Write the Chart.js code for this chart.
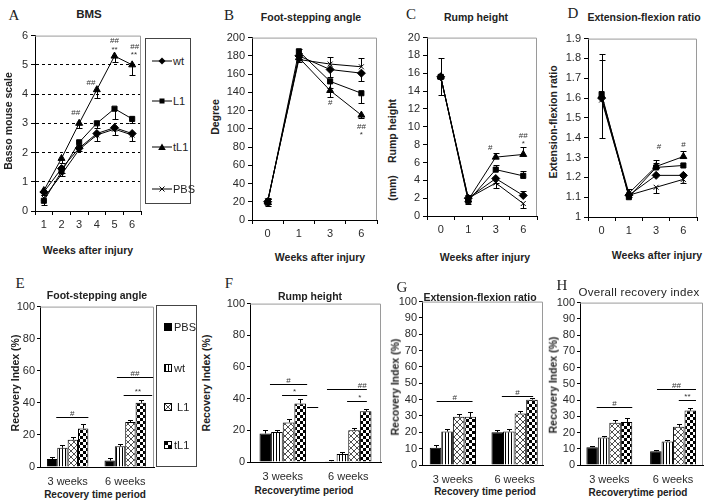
<!DOCTYPE html>
<html>
<head>
<meta charset="utf-8">
<script src="https://cdn.jsdelivr.net/npm/chart.js@4.4.1/dist/chart.umd.min.js"></script>
<style>
body{margin:0;background:#fff;font-family:"Liberation Sans",Arial,sans-serif;color:#222}
#wrap{position:relative;width:712px;height:504px;overflow:hidden;background:#fff}
canvas.ch{position:absolute}
.t{position:absolute;transform:translate(-50%,-50%);white-space:nowrap;line-height:1}
.b{font-weight:bold;font-size:10.5px}
.v{transform:translate(-50%,-50%) rotate(-90deg)}
.L{font-family:"Liberation Serif","Times New Roman",serif;font-size:15px}
.leg{position:absolute;border:1px solid #444;background:#fff;font-size:11px}
.li{position:absolute;left:0;display:flex;align-items:center;transform:translateY(-50%)}
.sw{border:1px solid #000;margin-right:2px}
</style>
</head>
<body>
<div id="wrap">
  <canvas class="ch" id="cA"></canvas>
  <canvas class="ch" id="cB"></canvas>
  <canvas class="ch" id="cC"></canvas>
  <canvas class="ch" id="cD"></canvas>
  <canvas class="ch" id="cE"></canvas>
  <canvas class="ch" id="cF"></canvas>
  <canvas class="ch" id="cG"></canvas>
  <canvas class="ch" id="cH"></canvas>

  <!-- panel letters -->
  <div class="t L" style="left:14px;top:15px">A</div>
  <div class="t L" style="left:229px;top:15px">B</div>
  <div class="t L" style="left:411px;top:14px">C</div>
  <div class="t L" style="left:573px;top:13px">D</div>
  <div class="t L" style="left:20px;top:283px">E</div>
  <div class="t L" style="left:229px;top:283px">F</div>
  <div class="t L" style="left:402px;top:287px">G</div>
  <div class="t L" style="left:562px;top:285px">H</div>

  <!-- titles -->
  <div class="t b" style="left:89px;top:15px;font-size:11.5px">BMS</div>
  <div class="t b" style="left:311px;top:17px">Foot-stepping angle</div>
  <div class="t b" style="left:476px;top:17px">Rump height</div>
  <div class="t b" style="left:644px;top:17px">Extension-flexion ratio</div>
  <div class="t b" style="left:97px;top:295px">Foot-stepping angle</div>
  <div class="t b" style="left:310px;top:296px">Rump height</div>
  <div class="t b" style="left:480px;top:297px">Extension-flexion ratio</div>
  <div class="t" style="left:639px;top:293px;font-size:11.5px;letter-spacing:0.3px">Overall recovery index</div>

  <!-- axis titles -->
  <div class="t b v" style="left:8px;top:121px">Basso mouse scale</div>
  <div class="t b v" style="left:215px;top:117px">Degree</div>
  <div class="t b v" style="left:392px;top:131px">Rump height</div>
  <div class="t b v" style="left:392px;top:188px">(mm)</div>
  <div class="t b v" style="left:553px;top:122px">Extension-flexion ratio</div>
  <div class="t b" style="left:88px;top:250px">Weeks after injury</div>
  <div class="t b" style="left:320px;top:257px">Weeks after injury</div>
  <div class="t b" style="left:485px;top:257px">Weeks after injury</div>
  <div class="t b" style="left:657px;top:255px">Weeks after injury</div>

  <div class="t b v" style="left:15px;top:383px">Recovery Index (%)</div>
  <div class="t b v" style="left:206px;top:383px">Recovery Index (%)</div>
  <div class="t b v" style="left:395px;top:387px">Recovery Index (%)</div>
  <div class="t b v" style="left:553px;top:385px">Recovery Index (%)</div>
  <div class="t b" style="left:95px;top:495px;font-size:10px">Recovery time period</div>
  <div class="t b" style="left:304px;top:491px;font-size:10px">Recoverytime period</div>
  <div class="t b" style="left:485px;top:492px;font-size:10px">Recovery time period</div>
  <div class="t b" style="left:638px;top:493px;font-size:10px">Recoverytime period</div>

  <!-- legend A -->
  <div class="leg" id="legA" style="left:145px;top:38px;width:44px;height:164px"></div>
  <!-- legend E -->
  <div class="leg" id="legE" style="left:156px;top:305px;width:39px;height:160px"></div>
</div>

<script>
// ---- categories ----
const weeksA=["1","2","3","4","5","6"];
const weeksB=["0","1","3","6"];
const periods=["3 weeks","6 weeks"];

// ---- A: BMS (error = [up, down]) ----
const bmsWt=[0.65,1.45,2.15,2.65,2.85,2.65];
const bmsL1=[0.35,1.35,2.35,3.0,3.5,3.15];
const bmsTL1=[0.7,1.8,3.0,4.15,5.3,5.0];
const bmsPBS=[0.45,1.25,2.1,2.6,2.8,2.6];
const bmsWtErr=[[0,.1],[0,.15],[0,.1],[0,.25],[0,.25],[0,.25]];
const bmsL1Err=[[0,.15],[0,.15],[0,.1],[0,.15],[0,.35],[0,.15]];
const bmsTL1Err=[[0,.1],[0,.15],[0,.15],[0,.3],[0,.2],[0,.35]];
const bmsMarks=[{x:1.8,y:3.35,t:"##"},{x:2.67,y:4.4,t:"##"},{x:4,y:5.83,t:"##"},{x:4,y:5.53,t:"**"},{x:5.15,y:5.6,t:"##"},{x:5.1,y:5.35,t:"**"}];

// ---- B: foot-stepping angle ----
const fsaWt=[20,180,165,161];
const fsaL1=[19,185,152,139];
const fsaTL1=[20,178,142,115];
const fsaPBS=[21,176,171,168];
const fsaWtErr=[[3,3],[3,3],[0,8],[0,9]];
const fsaL1Err=[[4,4],[2,2],[0,7],[0,11]];
const fsaTL1Err=[[3,3],[3,3],[0,7],[0,3]];
const fsaPBSErr=[[3,3],[3,3],[8,0],[10,0]];
const fsaMarks=[{x:2,y:128,t:"#"},{x:3,y:102,t:"##"},{x:3,y:93,t:"*"}];

// ---- C: rump height ----
const rhWt=[15.6,2.0,4.2,2.3];
const rhL1=[15.6,1.7,5.2,4.5];
const rhTL1=[15.6,1.8,6.6,6.9];
const rhPBS=[15.6,2.0,3.7,1.4];
const rhWtErr=[[2.1,2.0],[0.3,0],[0,0.5],[0.5,0]];
const rhL1Err=[[0,0],[0,0.3],[0.5,0],[0.5,0]];
const rhTL1Err=[[0,0],[0.4,0],[0.5,0],[0.8,0]];
const rhPBSErr=[[0,0],[0,0.3],[0,0.6],[0,0.5]];
const rhMarks=[{x:1.8,y:7.7,t:"#"},{x:3,y:9.0,t:"##"},{x:3,y:8.1,t:"*"}];

// ---- D: extension-flexion ratio ----
const efWt=[1.60,1.11,1.21,1.21];
const efL1=[1.62,1.10,1.25,1.26];
const efTL1=[1.61,1.12,1.255,1.305];
const efPBS=[1.59,1.11,1.15,1.19];
const efWtErr=[[0.19,0],[0,0],[0,0],[0,0]];
const efL1Err=[[0.2,0],[0.02,0],[0.02,0],[0,0]];
const efTL1Err=[[0,0],[0.02,0],[0.035,0],[0.03,0]];
const efPBSErr=[[0,0.19],[0,0.01],[0,0.03],[0,0.02]];
const efMarks=[{x:2.1,y:1.355,t:"#"},{x:3,y:1.365,t:"#"},{x:3,y:1.17,t:"*"}];

// ---- E-H: recovery index (PBS, wt, L1, tL1), error up ----
const riFsa={PBS:[5,4],wt:[12,13],L1:[17,28],tL1:[24,40]};
const riFsaErr={PBS:[1.5,1.5],wt:[1.5,1.5],L1:[1.5,1.5],tL1:[2.5,1.5]};
const riFsaLines=[{g:0,a:0.4,b:3.5,y:31,t:"#"},{g:1,a:0.7,b:4.2,y:56,t:"##"},{g:1,a:1.35,b:4.1,y:45,t:"**"}];

const riRh={PBS:[18,0.5],wt:[19,5],L1:[25,20],tL1:[37,32]};
const riRhErr={PBS:[2,1],wt:[1.5,1.5],L1:[2,1.5],tL1:[2.5,1.5]};
const riRhLines=[{g:0,a:0.4,b:3.6,y:49,t:"#"},{g:0,a:1.44,b:3.6,y:42,t:"*"},{g:0,a:3.6,b:4.55,y:34.6,t:""},
                 {g:1,a:-0.33,b:3.1,y:46,t:"##",tx:2.7},{g:1,a:1.4,b:3.1,y:38.4,t:"*",tx:2.5}];

const riEf={PBS:[10.5,20],wt:[20.5,20.5],L1:[29.5,31.5],tL1:[29.5,40]};
const riEfErr={PBS:[1.5,1.5],wt:[1.5,1.5],L1:[2,1.5],tL1:[3,1]};
const riEfLines=[{g:0,a:0.1,b:3.2,y:39,t:"#"},{g:1,a:0.4,b:3.1,y:42,t:"#"}];

const riAll={PBS:[11,8.5],wt:[17,14.5],L1:[26,23.5],tL1:[26.5,33.5]};
const riAllErr={PBS:[0.5,0.5],wt:[1,1],L1:[1.5,1.5],tL1:[2.5,1.5]};
const riAllLines=[{g:0,a:0.4,b:3.5,y:35.5,t:"#"},{g:1,a:0.1,b:3.5,y:46.5,t:"##"},{g:1,a:2.0,b:3.5,y:40,t:"**"}];

Chart.defaults.font.family='"Liberation Sans", Arial, sans-serif';
Chart.defaults.font.size=11;
Chart.defaults.color='#2a2a2a';
Chart.defaults.animation=false;

function makePattern(kind){
  if(kind==="solid") return "#000";
  const c=document.createElement("canvas"),g=c.getContext("2d");
  if(kind==="stripe"){c.width=3;c.height=3;g.fillStyle="#fff";g.fillRect(0,0,3,3);g.fillStyle="#000";g.fillRect(0,0,1,3);}
  if(kind==="cross"){c.width=6;c.height=6;g.fillStyle="#fff";g.fillRect(0,0,6,6);g.strokeStyle="#222";g.lineWidth=0.8;
    g.beginPath();g.moveTo(-1,-1);g.lineTo(7,7);g.moveTo(7,-1);g.lineTo(-1,7);g.stroke();}
  if(kind==="check"){c.width=6;c.height=6;g.fillStyle="#fff";g.fillRect(0,0,6,6);g.fillStyle="#000";g.fillRect(0,0,3,3);g.fillRect(3,3,3,3);}
  return g.createPattern(c,"repeat");
}
const fills={PBS:makePattern("solid"),wt:makePattern("stripe"),L1:makePattern("cross"),tL1:makePattern("check")};

// frame, error bars and significance marks
const extras={
  id:"extras",
  afterDatasetsDraw(chart,args,opts){
    const ctx=chart.ctx,y=chart.scales.y,x=chart.scales.x,a=chart.chartArea;
    ctx.save();
    ctx.strokeStyle="#9a9a9a";ctx.lineWidth=1;
    ctx.beginPath();ctx.moveTo(a.left,a.top+0.5);ctx.lineTo(a.right-0.5,a.top+0.5);ctx.lineTo(a.right-0.5,a.bottom);ctx.stroke();
    ctx.strokeStyle="#000";
    chart.data.datasets.forEach((ds,di)=>{
      if(!ds.err) return;
      const cap=ds.cap||3;
      chart.getDatasetMeta(di).data.forEach((el,i)=>{
        const v=typeof ds.data[i]==="object"?ds.data[i].y:ds.data[i];
        const px=Math.round(el.x)+0.5;
        [[ds.err[i][0],1],[ds.err[i][1],-1]].forEach(([e,s])=>{
          if(!e) return;
          const y0=y.getPixelForValue(v),y1=Math.round(y.getPixelForValue(v+s*e))+0.5;
          ctx.beginPath();ctx.moveTo(px,y0);ctx.lineTo(px,y1);ctx.moveTo(px-cap,y1);ctx.lineTo(px+cap,y1);ctx.stroke();
        });
      });
    });
    ctx.fillStyle="#333";ctx.font='8px "Liberation Sans", Arial';ctx.textAlign="center";ctx.textBaseline="middle";
    (opts.marks||[]).forEach(m=>ctx.fillText(m.t,x.getPixelForValue(m.x),y.getPixelForValue(m.y)));
    (opts.lines||[]).forEach(m=>{
      const c0=chart.getDatasetMeta(0).data[m.g].x,c1=chart.getDatasetMeta(1).data[m.g].x;
      const x1=c0+m.a*(c1-c0),x2=c0+m.b*(c1-c0),py=Math.round(y.getPixelForValue(m.y))+0.5;
      ctx.beginPath();ctx.moveTo(x1,py);ctx.lineTo(x2,py);ctx.stroke();
      if(m.t){const tx=m.tx!==undefined?c0+m.tx*(c1-c0):(x1+x2)/2;ctx.fillText(m.t,tx,py-4);}
    });
    ctx.restore();
  }
};

function place(id,c,p){
  const cv=document.getElementById(id);
  cv.width=c[2]-c[0];cv.height=c[3]-c[1];
  cv.style.left=c[0]+"px";cv.style.top=c[1]+"px";
  return {cv,pad:{top:p[1]-c[1],right:c[2]-p[2],left:0,bottom:0},yw:p[0]-c[0],xh:c[3]-p[3]};
}

const markers={wt:["rectRot",4],L1:["rect",3.6],tL1:["triangle",4],PBS:["crossRot",3.5]};
function lineSet(name,data,err){
  return {label:name,data,err,borderColor:"#000",backgroundColor:"#000",borderWidth:1,tension:0,
    pointStyle:markers[name][0],pointRadius:markers[name][1],pointBackgroundColor:"#000",pointBorderColor:"#000",pointBorderWidth:1,cap:3};
}

function lineChart(id,c,p,labels,sets,y,marks,dashed){
  const L=place(id,c,p);
  new Chart(L.cv,{
    type:"line",
    data:{labels,datasets:sets},
    options:{
      responsive:false,layout:{padding:L.pad},
      plugins:{legend:{display:false},tooltip:{enabled:false},extras:{marks}},
      scales:{
        x:{offset:true,grid:{offset:true,drawOnChartArea:false,tickLength:4,tickColor:"#000"},border:{color:"#000"},
           ticks:{padding:3},afterFit:s=>{s.height=L.xh;}},
        y:{min:y.min,max:y.max,ticks:{stepSize:y.step,padding:3,callback:v=>String(Math.round(v*10)/10)},
           grid:dashed?{color:cx=>(cx.tick&&cx.tick.value>y.min&&cx.tick.value<y.max)?"#000":"transparent",tickColor:"#000",tickLength:4}
                      :{drawOnChartArea:false,tickColor:"#000",tickLength:4},
           border:{color:"#000",dash:dashed?[3,3]:[]},afterFit:s=>{s.width=L.yw;}}
      }
    },
    plugins:[extras]
  });
}

function barChart(id,c,p,vals,errs,lines,xr,pct){
  const L=place(id,c,p);
  const sets=["PBS","wt","L1","tL1"].map(k=>({
    label:k,data:vals[k].map((v,i)=>({x:i,y:v})),err:errs[k].map(e=>[e,0]),
    backgroundColor:fills[k],borderColor:"#000",borderWidth:1,categoryPercentage:pct,barPercentage:1,cap:2.5
  }));
  new Chart(L.cv,{
    type:"bar",
    data:{datasets:sets},
    options:{
      responsive:false,layout:{padding:L.pad},
      plugins:{legend:{display:false},tooltip:{enabled:false},extras:{lines}},
      scales:{
        x:{type:"linear",min:xr[0],max:xr[1],offset:false,
           afterBuildTicks:s=>{s.ticks=periods.map((q,i)=>({value:i}));},
           ticks:{callback:v=>periods[v],padding:4,autoSkip:false,maxRotation:0},
           grid:{offset:false,drawOnChartArea:false,tickLength:4,tickColor:"transparent"},border:{color:"#000"},
           afterFit:s=>{s.height=L.xh;}},
        y:{min:0,max:100,ticks:{stepSize:10,padding:2},grid:{drawOnChartArea:false,tickLength:3,tickColor:"#000"},
           border:{color:"#000"},afterFit:s=>{s.width=L.yw;}}
      }
    },
    plugins:[extras]
  });
}

lineChart("cA",[12,26,146,236],[35,34,143,211],weeksA,
  [lineSet("PBS",bmsPBS,null),lineSet("wt",bmsWt,bmsWtErr),lineSet("L1",bmsL1,bmsL1Err),lineSet("tL1",bmsTL1,bmsTL1Err)],
  {min:0,max:6,step:1},bmsMarks,true);
lineChart("cB",[222,28,382,240],[252,36,379,220],weeksB,
  [lineSet("PBS",fsaPBS,fsaPBSErr),lineSet("wt",fsaWt,fsaWtErr),lineSet("L1",fsaL1,fsaL1Err),lineSet("tL1",fsaTL1,fsaTL1Err)],
  {min:0,max:200,step:20},fsaMarks,false);
lineChart("cC",[400,28,542,236],[427,36,539,216],weeksB,
  [lineSet("PBS",rhPBS,rhPBSErr),lineSet("wt",rhWt,rhWtErr),lineSet("L1",rhL1,rhL1Err),lineSet("tL1",rhTL1,rhTL1Err)],
  {min:0,max:20,step:2},rhMarks,false);
lineChart("cD",[560,29,702,237],[588,37,699,217],weeksB,
  [lineSet("PBS",efPBS,efPBSErr),lineSet("wt",efWt,efWtErr),lineSet("L1",efL1,efL1Err),lineSet("tL1",efTL1,efTL1Err)],
  {min:1,max:1.9,step:0.1},efMarks,false);

barChart("cE",[14,298,157,488],[40,306,154,467],riFsa,riFsaErr,riFsaLines,[-0.48,1.5],0.72);
barChart("cF",[222,295,384,482],[250,303,381,462],riRh,riRhErr,riRhLines,[-0.5,1.5],0.71);
barChart("cG",[394,293,546,485],[422,301,543,465],riEf,riEfErr,riEfLines,[-0.5,1.46],0.75);
barChart("cH",[552,294,706,485],[580,302,703,465],riAll,riAllErr,riAllLines,[-0.46,1.47],0.72);

// legend A
const legA=document.getElementById("legA");
const sym={
  wt:'<polygon points="10,0.5 13.5,4 10,7.5 6.5,4" fill="#000"/>',
  L1:'<rect x="7.5" y="1.5" width="5" height="5" fill="#000"/>',
  tL1:'<polygon points="10,0.5 13.8,7 6.2,7" fill="#000"/>',
  PBS:'<path d="M7.5,1.5 L12.5,6.5 M12.5,1.5 L7.5,6.5" stroke="#000" stroke-width="1"/>'
};
["wt","L1","tL1","PBS"].forEach((k,i)=>{
  const d=document.createElement("div");d.className="li";d.style.top=[22,62,108,150][i]+"px";d.style.left="6px";
  d.innerHTML='<svg width="20" height="8" style="margin-right:1px"><line x1="0" y1="4" x2="20" y2="4" stroke="#000" stroke-width="1"/>'+sym[k]+'</svg>'+k;
  legA.appendChild(d);
});
// legend E
const legE=document.getElementById("legE");
[["PBS","PBS"],["wt","wt"],["L1"," L1"],["tL1","tL1"]].forEach(([k,txt],i)=>{
  const d=document.createElement("div");d.className="li";d.style.top=[21,62,101,139][i]+"px";d.style.left="7px";
  const sw=document.createElement("canvas");sw.width=6;sw.height=6;sw.className="sw";
  const g=sw.getContext("2d");g.fillStyle=fills[k];g.fillRect(0,0,6,6);
  d.appendChild(sw);
  const s=document.createElement("span");s.textContent=txt;s.style.whiteSpace="pre";d.appendChild(s);
  legE.appendChild(d);
});
</script>
</body>
</html>
